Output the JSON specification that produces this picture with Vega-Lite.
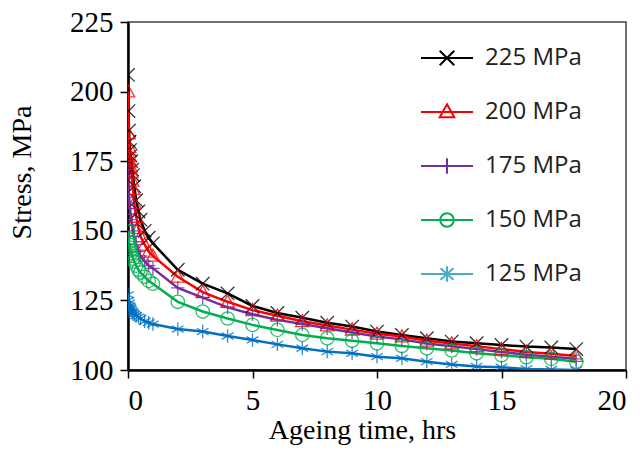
{
  "$schema": "https://vega.github.io/schema/vega-lite/v6.json",
  "width": 498,
  "height": 348,
  "autosize": {"type": "none"},
  "padding": {"left": 128, "top": 22, "right": 16, "bottom": 84},
  "background": "white",
  "config": {
    "view": {"stroke": "#444444", "strokeWidth": 1.5},
    "axis": {"grid": false, "domainColor": "black", "domainWidth": 2.5, "tickColor": "black", "tickWidth": 1.5, "tickSize": 8, "labelFont": "Liberation Serif", "labelFontSize": 29, "labelColor": "black", "titleFont": "Liberation Serif", "titleFontSize": 28, "titleFontWeight": "normal", "titleColor": "black", "labelPadding": 6}
  },
  "data": {"values": [
    {"s":"225 MPa","t":0,"v":206},{"s":"225 MPa","t":0.02,"v":193},{"s":"225 MPa","t":0.04,"v":186},{"s":"225 MPa","t":0.06,"v":182},{"s":"225 MPa","t":0.08,"v":179},{"s":"225 MPa","t":0.1,"v":177},{"s":"225 MPa","t":0.13,"v":175},{"s":"225 MPa","t":0.17,"v":172},{"s":"225 MPa","t":0.2,"v":170},{"s":"225 MPa","t":0.25,"v":166},{"s":"225 MPa","t":0.33,"v":161},{"s":"225 MPa","t":0.42,"v":157},{"s":"225 MPa","t":0.5,"v":154},{"s":"225 MPa","t":0.67,"v":150},{"s":"225 MPa","t":0.83,"v":147.5},{"s":"225 MPa","t":1,"v":145.5},{"s":"225 MPa","t":2,"v":136},{"s":"225 MPa","t":3,"v":131},{"s":"225 MPa","t":4,"v":127.5},{"s":"225 MPa","t":5,"v":123},{"s":"225 MPa","t":6,"v":120.5},{"s":"225 MPa","t":7,"v":118.8},{"s":"225 MPa","t":8,"v":117},{"s":"225 MPa","t":9,"v":115.6},{"s":"225 MPa","t":10,"v":113.8},{"s":"225 MPa","t":11,"v":112.6},{"s":"225 MPa","t":12,"v":111.4},{"s":"225 MPa","t":13,"v":110.2},{"s":"225 MPa","t":14,"v":109.6},{"s":"225 MPa","t":15,"v":109},{"s":"225 MPa","t":16,"v":108.4},{"s":"225 MPa","t":17,"v":108.1},{"s":"225 MPa","t":18,"v":107.5},
    {"s":"200 MPa","t":0,"v":200},{"s":"200 MPa","t":0.02,"v":185},{"s":"200 MPa","t":0.04,"v":180},{"s":"200 MPa","t":0.06,"v":177},{"s":"200 MPa","t":0.08,"v":175},{"s":"200 MPa","t":0.1,"v":173},{"s":"200 MPa","t":0.13,"v":171},{"s":"200 MPa","t":0.17,"v":168},{"s":"200 MPa","t":0.2,"v":165},{"s":"200 MPa","t":0.25,"v":160},{"s":"200 MPa","t":0.33,"v":155},{"s":"200 MPa","t":0.42,"v":151},{"s":"200 MPa","t":0.5,"v":148},{"s":"200 MPa","t":0.67,"v":145},{"s":"200 MPa","t":0.83,"v":142.5},{"s":"200 MPa","t":1,"v":141},{"s":"200 MPa","t":2,"v":133.5},{"s":"200 MPa","t":3,"v":128},{"s":"200 MPa","t":4,"v":124.5},{"s":"200 MPa","t":5,"v":121.5},{"s":"200 MPa","t":6,"v":119.5},{"s":"200 MPa","t":7,"v":117.5},{"s":"200 MPa","t":8,"v":116},{"s":"200 MPa","t":9,"v":114.5},{"s":"200 MPa","t":10,"v":113},{"s":"200 MPa","t":11,"v":112},{"s":"200 MPa","t":12,"v":110.5},{"s":"200 MPa","t":13,"v":109.5},{"s":"200 MPa","t":14,"v":108.5},{"s":"200 MPa","t":15,"v":107.5},{"s":"200 MPa","t":16,"v":106.5},{"s":"200 MPa","t":17,"v":105.8},{"s":"200 MPa","t":18,"v":105},
    {"s":"175 MPa","t":0,"v":172},{"s":"175 MPa","t":0.02,"v":165},{"s":"175 MPa","t":0.04,"v":162},{"s":"175 MPa","t":0.06,"v":160},{"s":"175 MPa","t":0.08,"v":158},{"s":"175 MPa","t":0.1,"v":156},{"s":"175 MPa","t":0.13,"v":154},{"s":"175 MPa","t":0.17,"v":152},{"s":"175 MPa","t":0.2,"v":150},{"s":"175 MPa","t":0.25,"v":148},{"s":"175 MPa","t":0.33,"v":145},{"s":"175 MPa","t":0.42,"v":142.5},{"s":"175 MPa","t":0.5,"v":141},{"s":"175 MPa","t":0.67,"v":139},{"s":"175 MPa","t":0.83,"v":137.5},{"s":"175 MPa","t":1,"v":136.5},{"s":"175 MPa","t":2,"v":129.5},{"s":"175 MPa","t":3,"v":126},{"s":"175 MPa","t":4,"v":122.5},{"s":"175 MPa","t":5,"v":120},{"s":"175 MPa","t":6,"v":118},{"s":"175 MPa","t":7,"v":116.5},{"s":"175 MPa","t":8,"v":115},{"s":"175 MPa","t":9,"v":113.5},{"s":"175 MPa","t":10,"v":112},{"s":"175 MPa","t":11,"v":111},{"s":"175 MPa","t":12,"v":109.5},{"s":"175 MPa","t":13,"v":108.5},{"s":"175 MPa","t":14,"v":107.5},{"s":"175 MPa","t":15,"v":106.5},{"s":"175 MPa","t":16,"v":105.5},{"s":"175 MPa","t":17,"v":104.8},{"s":"175 MPa","t":18,"v":104},
    {"s":"150 MPa","t":0,"v":150},{"s":"150 MPa","t":0.02,"v":147},{"s":"150 MPa","t":0.04,"v":146},{"s":"150 MPa","t":0.06,"v":145},{"s":"150 MPa","t":0.08,"v":144},{"s":"150 MPa","t":0.1,"v":143},{"s":"150 MPa","t":0.13,"v":142},{"s":"150 MPa","t":0.17,"v":141},{"s":"150 MPa","t":0.2,"v":140},{"s":"150 MPa","t":0.25,"v":139},{"s":"150 MPa","t":0.33,"v":137.5},{"s":"150 MPa","t":0.42,"v":136},{"s":"150 MPa","t":0.5,"v":135},{"s":"150 MPa","t":0.67,"v":133.5},{"s":"150 MPa","t":0.83,"v":132},{"s":"150 MPa","t":1,"v":131},{"s":"150 MPa","t":2,"v":124.5},{"s":"150 MPa","t":3,"v":121},{"s":"150 MPa","t":4,"v":118.5},{"s":"150 MPa","t":5,"v":116.2},{"s":"150 MPa","t":6,"v":114.4},{"s":"150 MPa","t":7,"v":112.6},{"s":"150 MPa","t":8,"v":111.4},{"s":"150 MPa","t":9,"v":110.5},{"s":"150 MPa","t":10,"v":109.6},{"s":"150 MPa","t":11,"v":108.6},{"s":"150 MPa","t":12,"v":107.8},{"s":"150 MPa","t":13,"v":107},{"s":"150 MPa","t":14,"v":106},{"s":"150 MPa","t":15,"v":105.3},{"s":"150 MPa","t":16,"v":104.6},{"s":"150 MPa","t":17,"v":104},{"s":"150 MPa","t":18,"v":103},
    {"s":"125 MPa","t":0,"v":127},{"s":"125 MPa","t":0.02,"v":125},{"s":"125 MPa","t":0.04,"v":124},{"s":"125 MPa","t":0.06,"v":123},{"s":"125 MPa","t":0.08,"v":122.5},{"s":"125 MPa","t":0.1,"v":122},{"s":"125 MPa","t":0.13,"v":121.5},{"s":"125 MPa","t":0.17,"v":121},{"s":"125 MPa","t":0.2,"v":120.5},{"s":"125 MPa","t":0.25,"v":120},{"s":"125 MPa","t":0.33,"v":119.5},{"s":"125 MPa","t":0.42,"v":119},{"s":"125 MPa","t":0.5,"v":118.5},{"s":"125 MPa","t":0.67,"v":117.5},{"s":"125 MPa","t":0.83,"v":117},{"s":"125 MPa","t":1,"v":116.5},{"s":"125 MPa","t":2,"v":114.7},{"s":"125 MPa","t":3,"v":113.8},{"s":"125 MPa","t":4,"v":112.2},{"s":"125 MPa","t":5,"v":110.8},{"s":"125 MPa","t":6,"v":109.2},{"s":"125 MPa","t":7,"v":107.8},{"s":"125 MPa","t":8,"v":106.6},{"s":"125 MPa","t":9,"v":106},{"s":"125 MPa","t":10,"v":104.8},{"s":"125 MPa","t":11,"v":104.2},{"s":"125 MPa","t":12,"v":103},{"s":"125 MPa","t":13,"v":102},{"s":"125 MPa","t":14,"v":101.3},{"s":"125 MPa","t":15,"v":101},{"s":"125 MPa","t":16,"v":100.4},{"s":"125 MPa","t":17,"v":100.2},{"s":"125 MPa","t":18,"v":100}
  ]},
  "resolve": {"scale": {"color": "independent", "shape": "independent"}},
  "encoding": {
    "x": {"field": "t", "type": "quantitative", "scale": {"domain": [0, 20], "nice": false}, "axis": {"values": [0, 5, 10, 15, 20], "title": "Ageing time, hrs", "labelPadding": 8, "titleX": 234, "titleY": 68, "titleBaseline": "alphabetic"}},
    "y": {"field": "v", "type": "quantitative", "scale": {"domain": [100, 225], "nice": false, "zero": false}, "axis": {"values": [100, 125, 150, 175, 200, 225], "title": "Stress, MPa", "labelPadding": 7, "titleX": -92, "titleY": 150}}
  },
  "layer": [
    {"mark": {"type": "line", "strokeWidth": 2.5, "clip": true},
     "encoding": {"color": {"field": "s", "type": "nominal", "legend": null, "scale": {"domain": ["225 MPa", "200 MPa", "175 MPa", "150 MPa", "125 MPa"], "range": ["#000000", "#FF0000", "#7030A0", "#00B050", "#0070C0"]}}}},
    {"mark": {"type": "point", "filled": false, "size": 180, "strokeWidth": 1.3, "opacity": 0.8, "clip": true},
     "encoding": {
       "color": {"field": "s", "type": "nominal", "legend": null, "scale": {"domain": ["225 MPa", "200 MPa", "175 MPa", "150 MPa", "125 MPa"], "range": ["#000000", "#FF0000", "#7030A0", "#00B050", "#0070C0"]}},
       "shape": {"field": "s", "type": "nominal", "legend": null, "scale": {"domain": ["225 MPa", "200 MPa", "175 MPa", "150 MPa", "125 MPa"], "range": ["M-1,-1L1,1M-1,1L1,-1", "M0,-1L1,0.8H-1Z", "M-1,0H1M0,-1V1", "circle", "M0,-1V1M-0.87,-0.5L0.87,0.5M-0.87,0.5L0.87,-0.5"]}}
     }},
    {"transform": [{"filter": "datum.t === 18"}],
     "mark": {"type": "point", "filled": false, "opacity": 0, "strokeWidth": 2},
     "encoding": {
       "color": {"field": "s", "type": "nominal", "scale": {"domain": ["225 MPa", "200 MPa", "175 MPa", "150 MPa", "125 MPa"], "range": ["#000000", "#FF0000", "#7030A0", "#00B050", "#4BACC6"]},
         "legend": {"title": null, "orient": "none", "legendX": 292, "legendY": 9, "padding": 0, "rowPadding": 15, "symbolSize": 2700, "symbolStrokeWidth": 2, "symbolOpacity": 1, "symbolFillColor": "transparent", "labelFont": "Open Sans", "labelFontSize": 24, "labelColor": "#222222", "labelOffset": 11}},
       "shape": {"field": "s", "type": "nominal", "scale": {"domain": ["225 MPa", "200 MPa", "175 MPa", "150 MPa", "125 MPa"], "range": ["M-1,0H1M-0.28,-0.28L0.28,0.28M-0.28,0.28L0.28,-0.28", "M-1,0H1M0,-0.3L0.28,0.2H-0.28Z", "M-1,0H1M0,-0.3V0.3", "M-1,0H1M0.26,0A0.26,0.26,0,1,1,-0.26,0A0.26,0.26,0,1,1,0.26,0", "M-1,0H1M0,-0.3V0.3M-0.25,-0.22L0.25,0.22M-0.25,0.22L0.25,-0.22"]},
         "legend": {"title": null, "orient": "none", "legendX": 292, "legendY": 9, "padding": 0, "rowPadding": 15, "symbolSize": 2700, "symbolStrokeWidth": 2, "symbolOpacity": 1, "symbolFillColor": "transparent", "labelFont": "Open Sans", "labelFontSize": 24, "labelColor": "#222222", "labelOffset": 11}}
     }}
  ]
}
